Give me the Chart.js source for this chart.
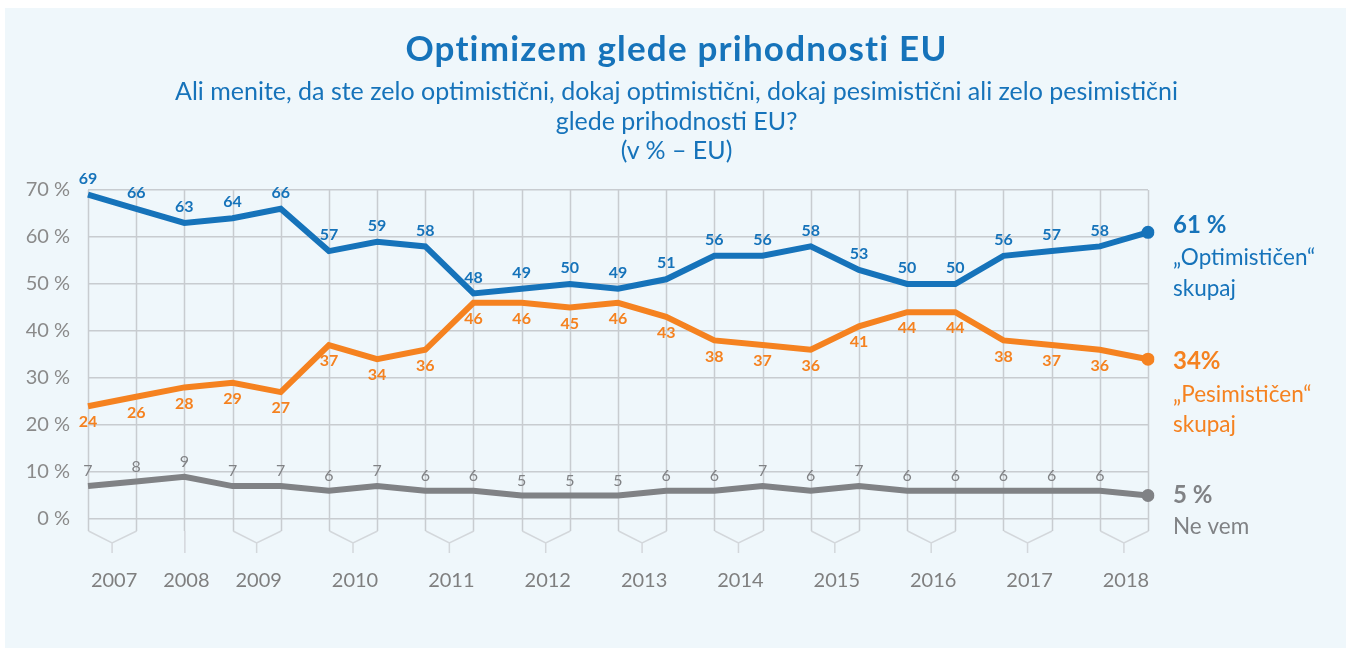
<!DOCTYPE html>
<html>
<head>
<meta charset="utf-8">
<script src="https://cdn.jsdelivr.net/npm/chart.js@4.4.1/dist/chart.umd.min.js"></script>
<style>
  html, body { margin: 0; padding: 0; background: #ffffff; }
  #wrap { position: relative; width: 1353px; height: 648px; overflow: hidden; }
  #panel { position: absolute; left: 5px; top: 8px; width: 1341px; height: 640px; background: #eff7fb; }
  canvas { position: absolute; left: 0; top: 0; }
  .t { position: absolute; left: 0; width: 1353px; text-align: center; font-family: Lato, sans-serif; color: #1673ba; }
  #title { top: 26px; font-size: 35px; font-weight: 700; line-height: 42px; letter-spacing: 1.2px; }
  #sub { top: 76px; font-size: 25px; line-height: 29.5px; }
</style>
</head>
<body>
<div id="wrap">
  <div id="panel"></div>
  <canvas id="c" width="1353" height="648"></canvas>
  <div class="t" id="title">Optimizem glede prihodnosti EU</div>
  <div class="t" id="sub">Ali menite, da ste zelo optimistični, dokaj optimistični, dokaj pesimistični ali zelo pesimistični<br>glede prihodnosti EU?<br>(v % – EU)</div>
</div>
<script>
// survey waves grouped by year
const years = ['2007', '2008', '2009', '2010', '2011', '2012', '2013', '2014', '2015', '2016', '2017', '2018'];
const wavesPerYear = [2, 1, 2, 2, 2, 2, 2, 2, 2, 2, 2, 2];

const optimistic = [69, 66, 63, 64, 66, 57, 59, 58, 48, 49, 50, 49, 51, 56, 56, 58, 53, 50, 50, 56, 57, 58, 61];
const pessimistic = [24, 26, 28, 29, 27, 37, 34, 36, 46, 46, 45, 46, 43, 38, 37, 36, 41, 44, 44, 38, 37, 36, 34];
const dontKnow = [7, 8, 9, 7, 7, 6, 7, 6, 6, 5, 5, 5, 6, 6, 7, 6, 7, 6, 6, 6, 6, 6, 5];

const seriesNames = [['„Optimističen“', 'skupaj'], ['„Pesimističen“', 'skupaj'], ['Ne vem']];
const lastLabels = ['61 %', '34%', '5 %'];

const blue = '#1673ba';
const orange = '#f58220';
const grey = '#808285';
const gridCol = '#c8ccd0';

let waveLabels = [];
let yearIdx = [];
years.forEach((y, i) => {
  let start = waveLabels.length;
  for (let k = 0; k < wavesPerYear[i]; k++) waveLabels.push(y + '-' + (k + 1));
  yearIdx.push([start, waveLabels.length - 1]);
});

function lastOnly() {
  return ctx => ctx.dataIndex === ctx.dataset.data.length - 1 ? 6.5 : 0;
}

const extras = {
  id: 'extras',
  beforeDatasetsDraw(chart) {
    const ctx = chart.ctx;
    const x = chart.scales.x;
    const top = chart.chartArea.top;
    const bot = chart.chartArea.bottom;
    ctx.save();
    ctx.lineWidth = 1.5;
    ctx.strokeStyle = gridCol;
    for (let i = 0; i < waveLabels.length; i++) {
      const px = Math.round(x.getPixelForValue(i)) + 0.5;
      ctx.beginPath();
      ctx.moveTo(px, top);
      ctx.lineTo(px, bot + 12);
      ctx.stroke();
    }
    // year brackets
    ctx.strokeStyle = '#d3d7db';
    ctx.fillStyle = '#7f7f7f';
    ctx.font = '20px Lato';
    ctx.textAlign = 'center';
    ctx.textBaseline = 'middle';
    yearIdx.forEach((r, i) => {
      const a = x.getPixelForValue(r[0]);
      const b = x.getPixelForValue(r[1]);
      const m = (a + b) / 2;
      ctx.beginPath();
      if (r[0] === r[1]) {
        ctx.moveTo(a + 0.5, bot + 12);
        ctx.lineTo(a + 0.5, bot + 34);
      } else {
        ctx.moveTo(a + 0.5, bot + 12);
        ctx.lineTo(m, bot + 24);
        ctx.lineTo(b + 0.5, bot + 12);
        ctx.moveTo(m, bot + 24);
        ctx.lineTo(m, bot + 34);
      }
      ctx.stroke();
      ctx.fillText(years[i], m + 2, bot + 62);
    });
    ctx.restore();
  },
  afterDatasetsDraw(chart) {
    const ctx = chart.ctx;
    const offs = [-16, 16, -15];
    const fonts = ['bold 16px Lato', 'bold 16px Lato', '16px Lato'];
    ctx.save();
    ctx.textAlign = 'center';
    ctx.textBaseline = 'middle';
    chart.data.datasets.forEach((ds, i) => {
      const meta = chart.getDatasetMeta(i);
      ctx.fillStyle = ds.borderColor;
      ctx.font = fonts[i];
      meta.data.forEach((pt, j) => {
        if (j === ds.data.length - 1) return;
        ctx.fillText(ds.data[j], pt.x, pt.y + offs[i]);
      });
    });
    // right side labels
    const valOff = [-7, 2, 0];
    const lineOffs = [[25, 56], [36, 66], [31]];
    ctx.textAlign = 'left';
    chart.data.datasets.forEach((ds, i) => {
      const meta = chart.getDatasetMeta(i);
      const pt = meta.data[meta.data.length - 1];
      const lx = pt.x + 25;
      ctx.fillStyle = ds.borderColor;
      ctx.font = 'bold 24px Lato';
      ctx.fillText(lastLabels[i], lx, pt.y + valOff[i]);
      ctx.font = '22.5px Lato';
      seriesNames[i].forEach((s, k) => {
        ctx.fillText(s, lx, pt.y + lineOffs[i][k]);
      });
    });
    ctx.restore();
  }
};

function makeSet(label, data, color) {
  return {
    label: label,
    data: data,
    borderColor: color,
    backgroundColor: color,
    borderWidth: 6,
    pointRadius: lastOnly(),
    pointHoverRadius: 0,
    pointBorderWidth: 0,
    tension: 0,
    borderJoinStyle: 'miter',
    borderCapStyle: 'butt'
  };
}

new Chart(document.getElementById('c'), {
  type: 'line',
  data: {
    labels: waveLabels,
    datasets: [
      makeSet('Optimističen skupaj', optimistic, blue),
      makeSet('Pesimističen skupaj', pessimistic, orange),
      makeSet('Ne vem', dontKnow, grey)
    ]
  },
  options: {
    responsive: false,
    devicePixelRatio: 1,
    animation: false,
    events: [],
    layout: { padding: { left: 0, right: 205, top: 190, bottom: 129 } },
    plugins: { legend: { display: false }, tooltip: { enabled: false } },
    scales: {
      x: { type: 'category', display: false, offset: false },
      y: {
        min: 0,
        max: 70,
        afterFit(s) { s.width = 88; },
        border: { display: false },
        grid: { color: gridCol, lineWidth: 1.5, drawTicks: false },
        ticks: {
          stepSize: 10,
          padding: 18,
          color: '#8a8a8a',
          font: { family: 'Lato', size: 20 },
          callback: v => v + ' %'
        }
      }
    }
  },
  plugins: [extras]
});
</script>
</body>
</html>
